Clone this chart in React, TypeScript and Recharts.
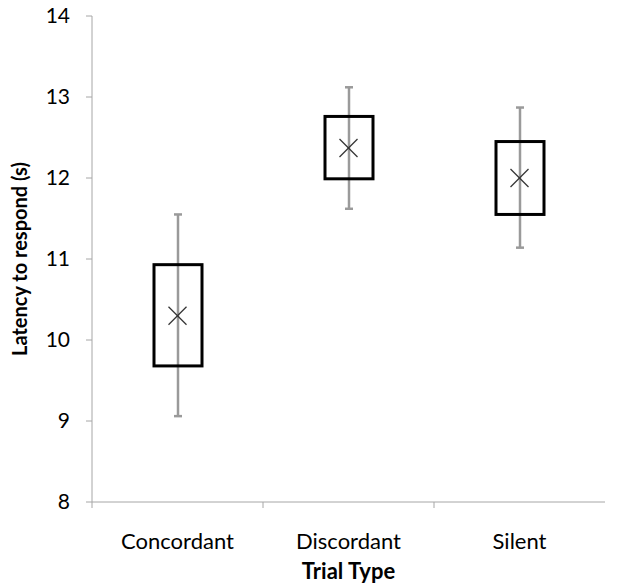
import { ComposedChart, Bar, Scatter, XAxis, YAxis, Label } from "recharts";

const CATEGORIES = ["Concordant", "Discordant", "Silent"];
const MEAN = [10.3, 12.37, 12.0];
const BOX_LOW = [9.68, 11.99, 11.55];
const BOX_HIGH = [10.93, 12.76, 12.45];
const WHISKER_LOW = [9.06, 11.62, 11.14];
const WHISKER_HIGH = [11.55, 13.12, 12.87];
const Y_TICKS = [8, 9, 10, 11, 12, 13, 14];

const data = CATEGORIES.map((name, i) => ({
  name,
  mean: MEAN[i],
  box: [BOX_LOW[i], BOX_HIGH[i]],
  whisker: [WHISKER_LOW[i], WHISKER_HIGH[i]],
}));

const FONT = "Lato, sans-serif";
const AXIS_GRAY = "#a6a6a6";
const X_TICK_SIZE = 6;
const X_TICK_MARGIN = 25;

const Whisker = (props: any) => {
  const { x, y, width, height } = props;
  const top = Math.min(y, y + height);
  const bottom = Math.max(y, y + height);
  const cx = x + width / 2;
  return (
    <g stroke="#9a9a9a" strokeWidth={2.5}>
      <line x1={cx} x2={cx} y1={top} y2={bottom} />
      <line x1={cx - 4} x2={cx + 4} y1={top} y2={top} />
      <line x1={cx - 4} x2={cx + 4} y1={bottom} y2={bottom} />
    </g>
  );
};

const Box = (props: any) => {
  const { x, y, width, height } = props;
  const top = Math.min(y, y + height);
  const h = Math.abs(height);
  return (
    <rect x={x} y={top} width={width} height={h} fill="none" stroke="#000" strokeWidth={3} />
  );
};

const Cross = (props: any) => {
  const { cx, cy } = props;
  const s = 9;
  return (
    <g stroke="#333" strokeWidth={1.3}>
      <line x1={cx - s} y1={cy - s} x2={cx + s} y2={cy + s} />
      <line x1={cx - s} y1={cy + s} x2={cx + s} y2={cy - s} />
    </g>
  );
};

// category label plus a tick mark at the left edge of its band
const CategoryTick = (props: any) => {
  const { x, y, payload } = props;
  const axisY = y - X_TICK_SIZE - X_TICK_MARGIN;
  const left = x - (payload.offset ?? 0);
  return (
    <g>
      <line x1={left} x2={left} y1={axisY} y2={axisY + X_TICK_SIZE} stroke={AXIS_GRAY} strokeWidth={1} />
      <text x={x} y={y} dy="0.71em" textAnchor="middle" fill="#000" fontSize={22} fontFamily={FONT}>
        {payload.value}
      </text>
    </g>
  );
};

export default function App() {
  return (
    <div style={{ position: "absolute", left: 0, top: 0, width: 617, height: 583, background: "#fff" }}>
      <ComposedChart
        width={617}
        height={583}
        data={data}
        margin={{ top: 16, right: 12, bottom: 0, left: 0 }}
      >
        <XAxis
          xAxisId="cat"
          dataKey="name"
          height={81}
          stroke={AXIS_GRAY}
          tickLine={false}
          tickSize={X_TICK_SIZE}
          tickMargin={X_TICK_MARGIN}
          tick={<CategoryTick />}
        >
          <Label
            value="Trial Type"
            position="insideBottom"
            offset={4}
            style={{ fill: "#000", fontSize: 22, fontWeight: 700, fontFamily: FONT }}
          />
        </XAxis>
        <XAxis xAxisId="cat2" dataKey="name" hide />
        <YAxis
          domain={[8, 14]}
          ticks={Y_TICKS}
          width={92}
          stroke={AXIS_GRAY}
          tickSize={6}
          tickMargin={16}
          tick={{ fill: "#000", fontSize: 21, fontFamily: FONT }}
        >
          <Label
            value="Latency to respond (s)"
            angle={-90}
            position="insideLeft"
            offset={20}
            style={{ textAnchor: "middle", fill: "#000", fontSize: 20, fontWeight: 700, fontFamily: FONT }}
          />
        </YAxis>
        <Bar xAxisId="cat2" dataKey="whisker" barSize={10} shape={<Whisker />} isAnimationActive={false} />
        <Bar xAxisId="cat" dataKey="box" barSize={48} shape={<Box />} isAnimationActive={false} />
        <Scatter xAxisId="cat" dataKey="mean" shape={<Cross />} isAnimationActive={false} />
      </ComposedChart>
    </div>
  );
}
